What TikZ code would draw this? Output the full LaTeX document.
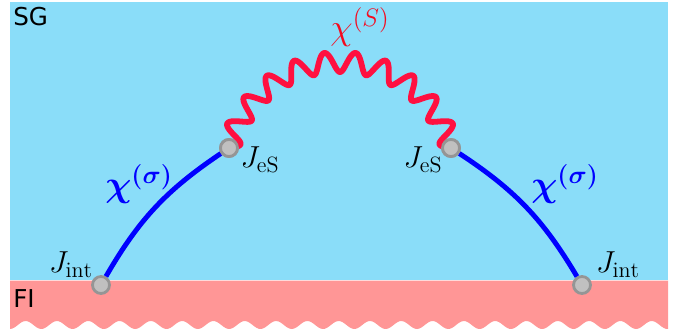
\documentclass[tikz,border=0pt]{standalone}
\usepackage{amsmath}
\usepackage{fontspec}
\usetikzlibrary{positioning}
\newfontfamily\regionfont{DejaVu Sans}
\definecolor{sgblue}{HTML}{8ADDF9}
\definecolor{fipink}{HTML}{FF9696}
\definecolor{coilred}{HTML}{FF1040}
\definecolor{labelred}{HTML}{F50A1E}
\definecolor{vertgray}{HTML}{C0C0C0}
\definecolor{vertedge}{HTML}{959595}
\tikzset{
  vertex/.style={circle, fill=vertgray, draw=vertedge, line width=1.6pt, minimum size=0.34cm, inner sep=0pt},
  spinline/.style={blue, line width=2.8pt},
  coil/.style={coilred, line width=3.3pt, line join=round},
  jlabel/.style={font=\fontsize{18}{20}\selectfont, inner sep=1pt},
  chilabel/.style={font=\fontsize{22}{25}\selectfont, inner sep=1pt},
  region/.style={font=\regionfont\fontsize{14}{16}\selectfont, inner sep=0pt},
}

\begin{document}
\begin{tikzpicture}[x=0.02cm,y=-0.02cm]
  \useasboundingbox (0,0) rectangle (678,331);
  % layers
  \fill[sgblue] (10,2) rectangle (668,279.5);
  \fill[fipink] (10,280.5) -- (668,280.5) -- plot[domain=668:10,samples=300] (\x,{325+4*cos(11.5*(\x-10))}) -- cycle;
  \node[region, anchor=north west] (sg) at (13,7) {SG};
  \node[region, anchor=north west] (fi) at (13,289) {FI};
  % vertices
  \node[vertex] (intl) at (101,285) {};
  \node[vertex] (intr) at (582,285) {};
  \node[vertex] (esl) at (229,148) {};
  \node[vertex] (esr) at (451,148) {};
  % propagators
  \draw[spinline] (intl) to[bend left=13] (esl);
  \draw[spinline] (intr) to[bend right=13] (esr);
  \draw[coil] (esl.center) -- plot[domain=165.6:14.4, samples=500, smooth]
    ({340+(114.6-10*sin(25*(165.6-\x)))*cos(\x)}, {176.6-(114.6-10*sin(25*(165.6-\x)))*sin(\x)}) -- (esr.center);
  \node[vertex] at (esl) {};
  \node[vertex] at (esr) {};
  % labels
  \node[jlabel] (jesl) at (260,160) {$J_{\mathrm{eS}}$};
  \node[jlabel] (jesr) at (423,160) {$J_{\mathrm{eS}}$};
  \node[jlabel] (jintl) at (71,265) {$J_{\mathrm{int}}$};
  \node[jlabel] (jintr) at (618,265) {$J_{\mathrm{int}}$};
  \node[chilabel, blue] (chisl) at (139,184) {$\boldsymbol{\chi^{(\sigma)}}$};
  \node[chilabel, blue] (chisr) at (565,184) {$\boldsymbol{\chi^{(\sigma)}}$};
  \node[chilabel, labelred] (chiS) at (360,27) {$\chi^{(S)}$};
\end{tikzpicture}
\end{document}
